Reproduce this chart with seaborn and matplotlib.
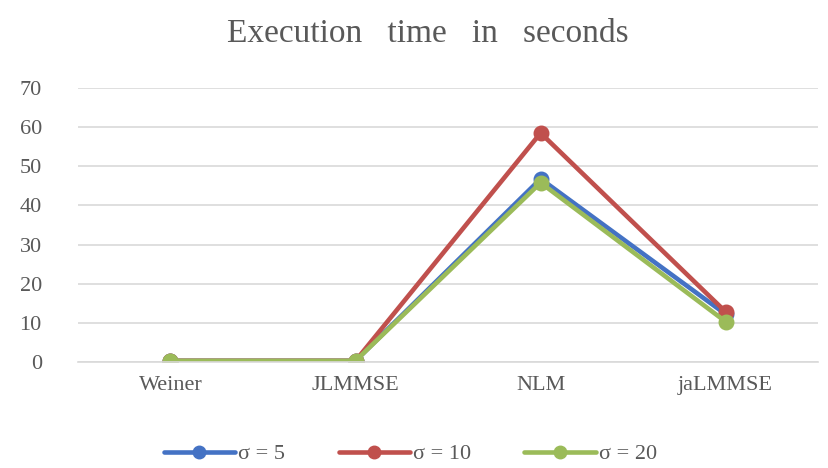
import pandas as pd
import matplotlib
matplotlib.use('Agg')
import matplotlib.pyplot as plt
import seaborn as sns
from matplotlib.lines import Line2D

# data
methods = ['Weiner', 'JLMMSE', 'NLM', 'jaLMMSE']
sigma_labels = ['σ = 5', 'σ = 10', 'σ = 20']
time_s5 = [0.3, 0.3, 46.8, 12.2]
time_s10 = [0.3, 0.3, 58.5, 12.8]
time_s20 = [0.3, 0.3, 45.8, 10.3]

colors = ['#4472C4', '#C0504D', '#9BBB59']

# long format table for seaborn
rows = []
for label, vals in zip(sigma_labels, [time_s5, time_s10, time_s20]):
    for m, v in zip(methods, vals):
        rows.append({'Method': m, 'Time': v, 'Sigma': label})
df = pd.DataFrame(rows)

sns.set_style('white')
plt.rcParams['font.family'] = ['Liberation Serif', 'DejaVu Serif']
text_grey = '#595959'

fig = plt.figure(figsize=(8.29, 4.68), dpi=100)
ax = fig.add_axes([0.094, 0.2265, 0.893, 0.5855])

sns.pointplot(data=df, x='Method', y='Time', hue='Sigma', palette=colors,
              markers='o', markersize=9, linewidth=3.3, ax=ax, legend=False)

ax.set_ylim(0, 70)
ax.set_yticks(range(0, 71, 10))
ax.set_xlim(-0.5, 3.5)
ax.set_xlabel('')
ax.set_ylabel('')

# grid and spines
ax.yaxis.grid(True, color='#D9D9D9', linewidth=1.2)
ax.set_axisbelow(True)
for side in ['left', 'right', 'top']:
    ax.spines[side].set_visible(False)
ax.spines['bottom'].set_color('#D9D9D9')
ax.spines['bottom'].set_linewidth(1.2)
ax.tick_params(axis='both', length=0, labelsize=16, colors=text_grey)
ax.tick_params(axis='x', pad=10)
ax.tick_params(axis='y', pad=26)

fig.suptitle('Execution   time   in   seconds', x=0.516, y=0.96, fontsize=24,
             color=text_grey)

# legend at the bottom
handles = [Line2D([0], [0], color=c, linewidth=3.3, marker='o', markersize=9)
           for c in colors]
fig.legend(handles=handles, labels=sigma_labels, loc='lower center',
           bbox_to_anchor=(0.495, -0.035), ncol=3, frameon=False,
           fontsize=16, handlelength=3.2, handletextpad=0.15, columnspacing=2.4,
           labelcolor=text_grey)

plt.savefig('out.png', dpi=100)
